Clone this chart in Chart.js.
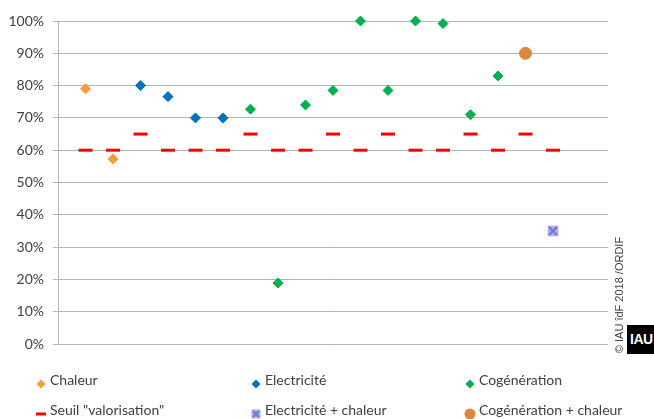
<!DOCTYPE html>
<html>
<head>
<meta charset="utf-8">
<script src="https://cdn.jsdelivr.net/npm/chart.js@4.4.0/dist/chart.umd.min.js"></script>
<style>
html,body{margin:0;padding:0;background:#fff;}
#wrap{position:relative;width:654px;height:419px;overflow:hidden;font-family:Lato,"Open Sans",sans-serif;}
#c{position:absolute;left:0;top:0;}
.lt{position:absolute;font-size:14px;line-height:16px;color:#404040;white-space:nowrap;}
.mk{position:absolute;}
#wm{position:absolute;left:549px;top:288px;width:140px;height:14px;line-height:14px;text-align:center;
  font-family:"Liberation Sans",Arial,sans-serif;font-size:11px;color:#404040;transform:rotate(-90deg);white-space:nowrap;}
#iau{position:absolute;left:627px;top:325px;width:30px;height:29px;background:#000;color:#fff;
  font-family:"Liberation Sans",Arial,sans-serif;font-weight:bold;font-size:14px;line-height:29px;padding-left:3px;box-sizing:border-box;letter-spacing:-0.5px;}
</style>
</head>
<body>
<div id="wrap">
<canvas id="c" width="654" height="419"></canvas>
<div id="legend"></div>
<div id="wm">© IAU îdF 2018 /ORDIF</div>
<div id="iau">IAU</div>
</div>
<script>
// Category slots (1..18) on the horizontal axis
const slots = [1,2,3,4,5,6,7,8,9,10,11,12,13,14,15,16,17,18];
// Series values (%), null = no value in that slot
const chaleur       = [79, 57.3, null, null, null, null, null, null, null, null, null, null, null, null, null, null, null, null];
const electricite   = [null, null, 80, 76.6, 70, 70, null, null, null, null, null, null, null, null, null, null, null, null];
const cogeneration  = [null, null, null, null, null, null, 72.7, 18.9, 74, 78.5, 100, 78.5, 100, 99.2, 71, 83, null, null];
const cogenChaleur  = [null, null, null, null, null, null, null, null, null, null, null, null, null, null, null, null, 90, null];
const elecChaleur   = [null, null, null, null, null, null, null, null, null, null, null, null, null, null, null, null, null, 35];
const seuil         = [60, 60, 65, 60, 60, 60, 65, 60, 60, 65, 60, 65, 60, 60, 65, 60, 65, 60];
const yTicks = [0,10,20,30,40,50,60,70,80,90,100];
const seriesNames = ['Chaleur','Electricité','Cogénération','Seuil "valorisation"','Electricité + chaleur','Cogénération + chaleur'];

const toPts = arr => slots.map((s,i)=>({x:s,y:arr[i]})).filter(p=>p.y!==null);

const C = {
  chaleur:'#F79D3A', elec:'#0070C0', cogen:'#00B050', seuil:'#FF0000',
  ecFill:'#C99CF5', ecX:'#4A8FC6', cc:'#DF8739'
};

const ds = [
  {label:seriesNames[0], data:toPts(chaleur), pointStyle:'rectRot', pointRadius:5, borderWidth:1, backgroundColor:C.chaleur, borderColor:C.chaleur},
  {label:seriesNames[1], data:toPts(electricite), pointStyle:'rectRot', pointRadius:5, borderWidth:1, backgroundColor:C.elec, borderColor:C.elec},
  {label:seriesNames[2], data:toPts(cogeneration), pointStyle:'rectRot', pointRadius:5, borderWidth:1, backgroundColor:C.cogen, borderColor:C.cogen},
  {label:seriesNames[4], data:toPts(elecChaleur), pointStyle:'crossRot', pointRadius:5.5, borderWidth:2, backgroundColor:C.ecX, borderColor:C.ecX},
  {label:seriesNames[4]+' (fond)', data:toPts(elecChaleur), pointStyle:'rect', pointRadius:7.5, borderWidth:0, backgroundColor:C.ecFill, borderColor:C.ecFill},
  {label:seriesNames[5], data:toPts(cogenChaleur), pointStyle:'circle', pointRadius:6, borderWidth:1, backgroundColor:C.cc, borderColor:C.cc},
  {label:seriesNames[3], data:toPts(seuil), pointStyle:'line', pointRadius:7, borderWidth:3, backgroundColor:C.seuil, borderColor:C.seuil}
];
ds.forEach(d=>{d.clip=false; d.showLine=false; d.pointHoverRadius=d.pointRadius;});

new Chart(document.getElementById('c'), {
  type:'scatter',
  data:{datasets:ds},
  options:{
    responsive:false, animation:false, events:[],
    layout:{padding:{top:21,right:46,bottom:75,left:0}},
    plugins:{legend:{display:false}, tooltip:{enabled:false}},
    scales:{
      x:{type:'linear', min:0, max:20, display:false},
      y:{min:0, max:100,
        afterBuildTicks:s=>{s.ticks=yTicks.map(v=>({value:v}));},
        afterFit:s=>{s.width=58;},
        grid:{color:'#B5B5B5', lineWidth:1, tickLength:5, drawTicks:true},
        border:{display:true, color:'#B5B5B5'},
        ticks:{color:'#404040', padding:9, font:{family:'Lato', size:14}, callback:v=>v+'%'}
      }
    }
  }
});

// HTML legend (3 columns x 2 rows)
const items = [
  {name:seriesNames[0], mk:'dia', col:C.chaleur, x:41, y:380},
  {name:seriesNames[1], mk:'dia', col:C.elec, x:256, y:380},
  {name:seriesNames[2], mk:'dia', col:C.cogen, x:470, y:380},
  {name:seriesNames[3], mk:'dash', col:C.seuil, x:41, y:410},
  {name:seriesNames[4], mk:'ex', col:C.ecX, x:256, y:410},
  {name:seriesNames[5], mk:'circ', col:C.cc, x:470, y:410}
];
const lg = document.getElementById('legend');
items.forEach(it=>{
  let svg='';
  if(it.mk==='dia') svg=`<svg width="12" height="12"><polygon points="6,1.5 10.5,6 6,10.5 1.5,6" fill="${it.col}"/></svg>`;
  if(it.mk==='dash') svg=`<svg width="12" height="12"><rect x="1" y="4.5" width="10" height="3" fill="${it.col}"/></svg>`;
  if(it.mk==='ex') svg=`<svg width="12" height="12"><rect x="1.5" y="1.5" width="9" height="9" fill="${C.ecFill}"/><path d="M3,3 L9,9 M9,3 L3,9" stroke="${it.col}" stroke-width="2"/></svg>`;
  if(it.mk==='circ') svg=`<svg width="12" height="12"><circle cx="6" cy="6" r="5.5" fill="${it.col}"/></svg>`;
  const m=document.createElement('div'); m.className='mk'; m.style.left=(it.x-6)+'px'; m.style.top=(it.y-6)+'px'; m.innerHTML=svg; lg.appendChild(m);
  const t=document.createElement('div'); t.className='lt'; t.style.left=(it.x+9)+'px'; t.style.top=(it.y-8)+'px'; t.textContent=it.name; lg.appendChild(t);
});
</script>
</body>
</html>
